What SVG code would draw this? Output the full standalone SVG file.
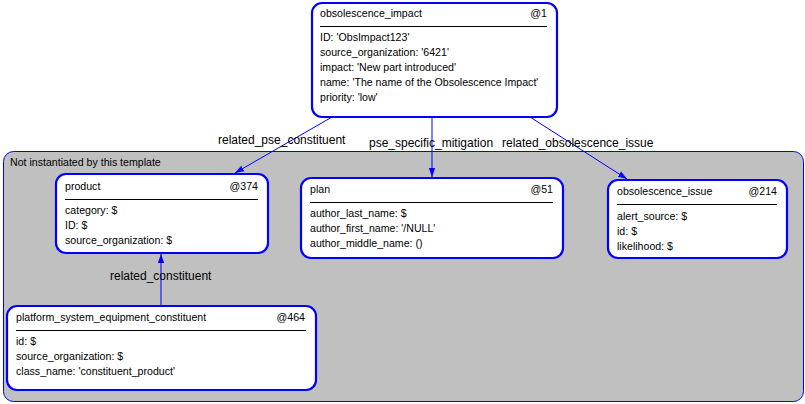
<svg xmlns="http://www.w3.org/2000/svg" width="805" height="404" viewBox="0 0 805 404">
<defs>
<style>
text{font-family:"Liberation Sans",Arial,sans-serif;font-size:10.6px;fill:#000}
text.lbl{font-size:12px}
.box{fill:#fff;stroke:#0000ff;stroke-width:2.2}
.sep{stroke:#000;stroke-width:1}
.grp{fill:#c0c0c0;stroke:#0000ff;stroke-width:1}
.edge{stroke:#0000ff;stroke-width:1;fill:none;marker-end:url(#arr)}
.r{text-anchor:end}
</style>
<marker id="arr" viewBox="0 0 10 10" refX="10" refY="5" markerWidth="9" markerHeight="9" markerUnits="userSpaceOnUse" orient="auto">
<path d="M0,1.5 L10,5 L0,8.5 z" fill="#0000ff"/>
</marker>
</defs>
<rect width="805" height="404" fill="#fff"/>
<g id="group_not_instantiated">
<rect class="grp" x="3.5" y="151.5" width="800" height="250" rx="10"/>
<text x="10" y="166">Not instantiated by this template</text>
</g>
<g id="connectors">
<line class="edge" x1="332" y1="117" x2="235" y2="173"/>
<line class="edge" x1="432" y1="117" x2="432" y2="177"/>
<line class="edge" x1="530" y1="117" x2="627" y2="179"/>
<line class="edge" x1="161" y1="305" x2="161" y2="254"/>
<text class="lbl" x="218" y="144">related_pse_constituent</text>
<text class="lbl" x="369" y="147">pse_specific_mitigation</text>
<text class="lbl" x="502" y="147">related_obsolescence_issue</text>
<text class="lbl" x="110" y="280">related_constituent</text>
</g>
<g id="obsolescence_impact">
<rect class="box" x="312" y="3" width="245" height="114" rx="10"/>
<text x="320" y="17">obsolescence_impact</text>
<text class="r" x="547" y="17">@1</text>
<line class="sep" x1="320" y1="26.5" x2="547" y2="26.5"/>
<text x="320" y="41">ID: 'ObsImpact123'</text>
<text x="320" y="56">source_organization: '6421'</text>
<text x="320" y="71">impact: 'New part introduced'</text>
<text x="320" y="86">name: 'The name of the Obsolescence Impact'</text>
<text x="320" y="101">priority: 'low'</text>
</g>
<g id="product">
<rect class="box" x="56" y="174" width="212" height="79" rx="10"/>
<text x="65" y="190">product</text>
<text class="r" x="258" y="190">@374</text>
<line class="sep" x1="65" y1="199.5" x2="258" y2="199.5"/>
<text x="65" y="214">category: $</text>
<text x="65" y="229">ID: $</text>
<text x="65" y="244">source_organization: $</text>
</g>
<g id="plan">
<rect class="box" x="301" y="178" width="262" height="80" rx="10"/>
<text x="310" y="193">plan</text>
<text class="r" x="553" y="193">@51</text>
<line class="sep" x1="310" y1="202.5" x2="553" y2="202.5"/>
<text x="310" y="217">author_last_name: $</text>
<text x="310" y="232">author_first_name: '/NULL'</text>
<text x="310" y="247">author_middle_name: ()</text>
</g>
<g id="obsolescence_issue">
<rect class="box" x="608" y="180" width="179" height="78" rx="10"/>
<text x="617" y="195">obsolescence_issue</text>
<text class="r" x="777" y="195">@214</text>
<line class="sep" x1="617" y1="204.5" x2="777" y2="204.5"/>
<text x="617" y="220">alert_source: $</text>
<text x="617" y="235">id: $</text>
<text x="617" y="250">likelihood: $</text>
</g>
<g id="platform_system_equipment_constituent">
<rect class="box" x="7" y="306" width="309" height="84" rx="10"/>
<text x="16" y="321">platform_system_equipment_constituent</text>
<text class="r" x="305" y="321">@464</text>
<line class="sep" x1="16" y1="330.5" x2="306" y2="330.5"/>
<text x="16" y="345">id: $</text>
<text x="16" y="360">source_organization: $</text>
<text x="16" y="375">class_name: 'constituent_product'</text>
</g>
</svg>
